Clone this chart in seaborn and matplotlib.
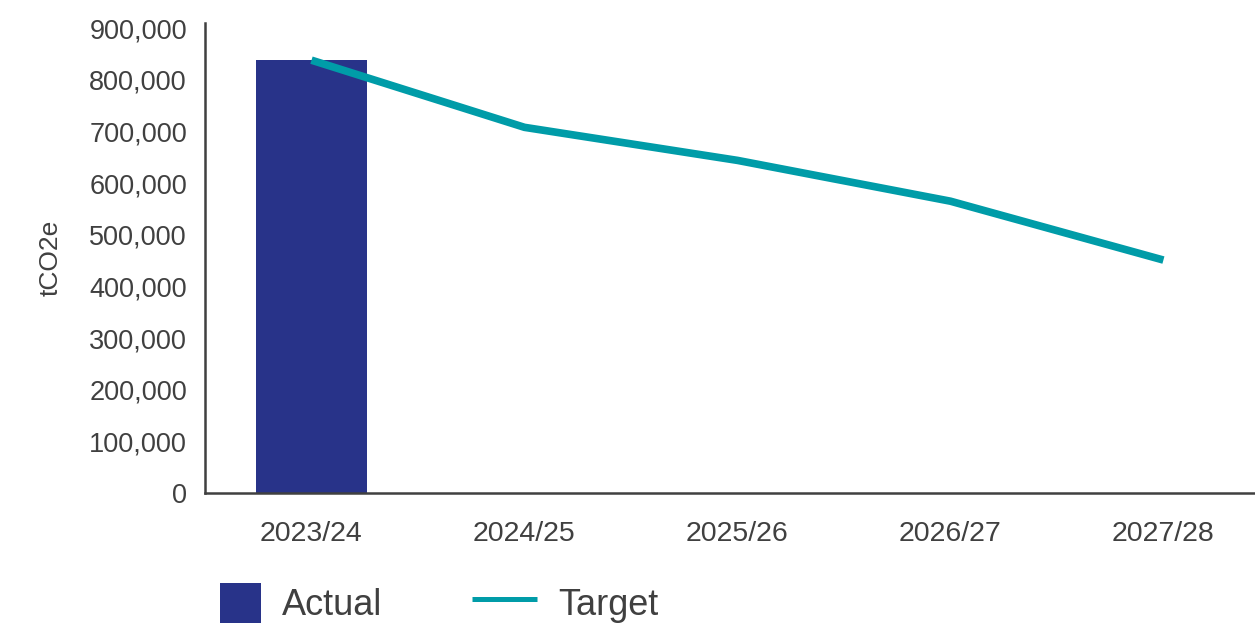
import matplotlib
matplotlib.use("Agg")
import matplotlib.pyplot as plt
import matplotlib.patches as mpatches
from matplotlib.lines import Line2D
from matplotlib.legend_handler import HandlerPatch
from matplotlib.ticker import FuncFormatter
import seaborn as sns

# Emissions data (tCO2e)
years = ["2023/24", "2024/25", "2025/26", "2026/27", "2027/28"]
actual_years = ["2023/24"]
actual_values = [838000]
target_values = [838000, 708000, 644000, 565000, 451000]
y_ticks = [0, 100000, 200000, 300000, 400000, 500000, 600000, 700000, 800000, 900000]

BAR_COLOR = "#283389"
LINE_COLOR = "#009CA8"
TEXT_COLOR = "#404040"

sns.set_theme(style="white")
plt.rcParams["font.family"] = ["Liberation Sans", "DejaVu Sans"]

fig = plt.figure(figsize=(12.55, 6.35), dpi=100)
ax = fig.add_axes([205 / 1255, 1 - 493 / 635, 1 - 205 / 1255, (493 - 23) / 635])

sns.barplot(x=actual_years, y=actual_values, order=years, color=BAR_COLOR,
            saturation=1, width=0.52, linewidth=0, ax=ax)
sns.lineplot(x=years, y=target_values, color=LINE_COLOR, linewidth=5.5,
             ax=ax, sort=False)
for ln in ax.lines:
    ln.set_solid_capstyle("butt")
    ln.set_solid_joinstyle("round")

ax.set_xlim(-0.5, 4.43)
ax.set_ylim(0, 910000)
ax.set_yticks(y_ticks)
ax.yaxis.set_major_formatter(FuncFormatter(lambda v, p: f"{int(v):,}"))

ax.tick_params(axis="both", length=0, labelcolor=TEXT_COLOR)
ax.tick_params(axis="y", pad=13, labelsize=19.5)
ax.tick_params(axis="x", pad=20, labelsize=20.5)
ax.set_xlabel("")
ax.set_ylabel("tCO2e", fontsize=19, color=TEXT_COLOR, labelpad=19)

for side in ["top", "right"]:
    ax.spines[side].set_visible(False)
for side in ["left", "bottom"]:
    ax.spines[side].set_color(TEXT_COLOR)
    ax.spines[side].set_linewidth(1.8)


class SquareHandler(HandlerPatch):
    def create_artists(self, legend, orig_handle, xdescent, ydescent,
                       width, height, fontsize, trans):
        p = mpatches.Rectangle((-xdescent + width - height, -ydescent),
                               height, height, facecolor=orig_handle.get_facecolor(),
                               edgecolor="none", transform=trans)
        return [p]


handles = [
    mpatches.Patch(facecolor=BAR_COLOR, label="Actual"),
    Line2D([], [], color=LINE_COLOR, linewidth=3.6, solid_capstyle="butt", label="Target"),
]
leg = fig.legend(handles=handles, loc="center left",
                 bbox_to_anchor=(196 / 1255, 1 - 603 / 635),
                 ncol=2, frameon=False, fontsize=26, borderpad=0,
                 handlelength=1.8, handleheight=1.36, handletextpad=0.58,
                 columnspacing=2.5, borderaxespad=0,
                 handler_map={mpatches.Patch: SquareHandler()})
for t in leg.get_texts():
    t.set_color(TEXT_COLOR)

fig.savefig("out.png", dpi=100)
